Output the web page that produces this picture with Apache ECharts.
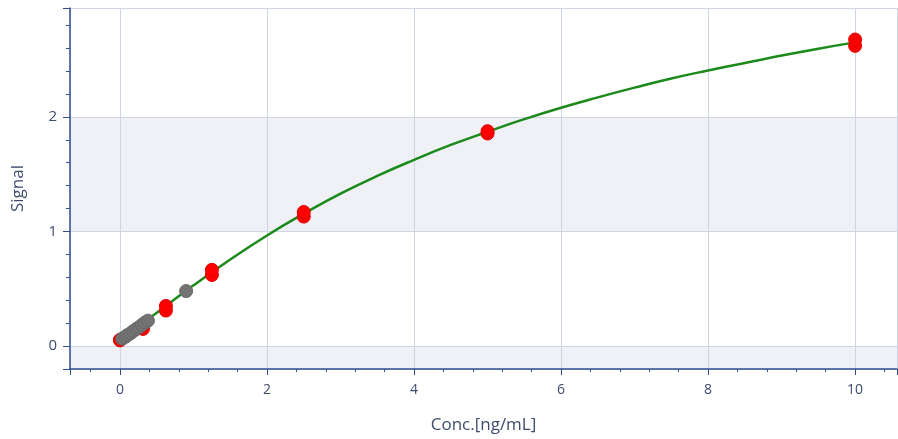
<!DOCTYPE html>
<html>
<head>
<meta charset="utf-8">
<script src="https://cdn.jsdelivr.net/npm/echarts@6/dist/echarts.min.js"></script>
<style>
  html, body { margin: 0; padding: 0; background: #ffffff; }
  #chart { width: 898px; height: 439px; }
</style>
</head>
<body>
<div id="chart"></div>
<script>
// Standard curve: concentration vs. signal
const xTicks = [0, 2, 4, 6, 8, 10];
const yTicks = [0, 1, 2];

// Fitted curve, sampled along the concentration range
const curveConc = [0, 0.5, 1, 1.5, 2, 2.5, 3, 3.5, 4, 4.5, 5, 5.5, 6, 6.5, 7, 7.5, 8, 8.5, 9, 9.5, 10];
const curveSignal = [0.05, 0.29, 0.53, 0.755, 0.965, 1.155, 1.33, 1.485, 1.625, 1.755, 1.87, 1.98, 2.08, 2.17, 2.255, 2.335, 2.405, 2.47, 2.535, 2.595, 2.65];

// Standards (duplicates)
const stdConc = [0, 0, 0.3125, 0.3125, 0.625, 0.625, 1.25, 1.25, 2.5, 2.5, 5, 5, 10, 10];
const stdSignal = [0.05, 0.055, 0.15, 0.17, 0.31, 0.35, 0.62, 0.665, 1.13, 1.17, 1.855, 1.875, 2.62, 2.675];

// Samples
const smpConc = [0.03, 0.07, 0.1, 0.14, 0.18, 0.22, 0.26, 0.3, 0.34, 0.38, 0.9];
const smpSignal = [0.065, 0.08, 0.095, 0.11, 0.13, 0.148, 0.165, 0.185, 0.205, 0.222, 0.48];

const zip = (a, b) => a.map((v, i) => [v, b[i]]);

const axisColor = '#2f4f91';
const textColor = '#3d4d6e';
const gridColor = '#cfd5e3';
const font = 'Open Sans';

const chart = echarts.init(document.getElementById('chart'), null, { renderer: 'canvas' });
chart.setOption({
  animation: false,
  backgroundColor: '#ffffff',
  grid: { left: 70, right: 1, top: 8, bottom: 70, containLabel: false, outerBoundsMode: 'none' },
  xAxis: {
    type: 'value',
    min: -0.68,
    max: 10.57,
    splitNumber: 5,
    name: 'Conc.[ng/mL]',
    nameLocation: 'middle',
    nameGap: 48,
    nameTextStyle: { color: textColor, fontSize: 17, fontFamily: font },
    axisLine: { show: true, onZero: false, lineStyle: { color: axisColor, width: 1.5 } },
    axisTick: { show: true, inside: false, length: 6, lineStyle: { color: axisColor } },
    minorTick: { show: true, splitNumber: 5, length: 3, lineStyle: { color: axisColor } },
    axisLabel: {
      color: textColor, fontSize: 14, fontFamily: font, margin: 14,
      showMinLabel: false, showMaxLabel: false,
      formatter: v => (xTicks.includes(v) ? String(v) : '')
    },
    splitLine: { show: true, lineStyle: { color: gridColor, width: 1 } }
  },
  yAxis: {
    type: 'value',
    min: -0.2,
    max: 2.95,
    splitNumber: 3,
    name: 'Signal',
    nameLocation: 'middle',
    nameGap: 43,
    nameTextStyle: { color: textColor, fontSize: 17, fontFamily: font },
    axisLine: { show: true, onZero: false, lineStyle: { color: axisColor, width: 1.5 } },
    axisTick: { show: true, inside: false, length: 7, lineStyle: { color: axisColor } },
    minorTick: { show: true, splitNumber: 5, length: 4, lineStyle: { color: axisColor } },
    axisLabel: {
      color: textColor, fontSize: 15, fontFamily: font, margin: 13,
      showMinLabel: false, showMaxLabel: false,
      formatter: v => (yTicks.includes(v) ? String(v) : '')
    },
    splitLine: { show: true, lineStyle: { color: gridColor, width: 1 } },
    splitArea: { show: true, areaStyle: { color: ['#eff1f6', '#ffffff'] } }
  },
  series: [
    {
      name: 'Fit',
      type: 'line',
      data: zip(curveConc, curveSignal),
      smooth: true,
      showSymbol: false,
      lineStyle: { color: '#1b8a1b', width: 2.5 },
      z: 2
    },
    {
      name: 'Standards',
      type: 'scatter',
      data: zip(stdConc, stdSignal),
      symbolSize: 13,
      itemStyle: { color: '#ff0000', borderColor: '#e60000', borderWidth: 1, opacity: 1 },
      z: 3
    },
    {
      name: 'Samples',
      type: 'scatter',
      data: zip(smpConc, smpSignal),
      symbolSize: 13,
      itemStyle: { color: '#737373', borderColor: '#676767', borderWidth: 1, opacity: 1 },
      z: 4
    }
  ]
});
</script>
</body>
</html>
